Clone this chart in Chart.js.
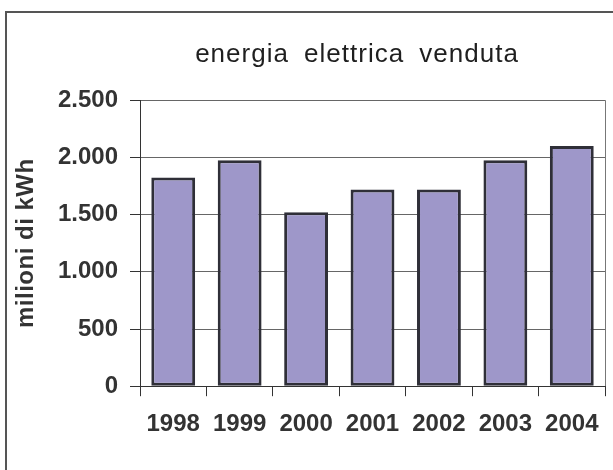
<!DOCTYPE html>
<html>
<head>
<meta charset="utf-8">
<script src="https://cdn.jsdelivr.net/npm/chart.js@4/dist/chart.umd.min.js"></script>
<style>
  html, body { margin: 0; padding: 0; background: #ffffff; }
  #wrap { width: 613px; height: 470px; }
</style>
</head>
<body>
<div id="wrap"><canvas id="c" width="613" height="470"></canvas></div>
<script>
const categories = ['1998', '1999', '2000', '2001', '2002', '2003', '2004'];
const values = [1825, 1975, 1520, 1720, 1720, 1975, 2100];
const yMin = 0;
const yMax = 2500;
const yStep = 500;
const chartTitle = 'energia elettrica venduta';
const yTitle = 'milioni di kWh';

const FONT = "'Liberation Sans', Arial, sans-serif";
const TEXT = '#333333';

function fmt(v) {
  return String(v).replace(/\B(?=(\d{3})+(?!\d))/g, '.');
}

const decor = {
  id: 'decor',
  afterLayout(chart) {
    const tb = chart.titleBlock;
    if (tb) {
      const C = 357;
      tb.left = 2 * C - tb.right;
    }
  },
  beforeDraw(chart) {
    const ctx = chart.ctx;
    ctx.save();
    ctx.strokeStyle = '#555555';
    ctx.lineWidth = 2;
    ctx.strokeRect(6, 12, 900, 900);
    ctx.restore();
    const tb = chart.titleBlock;
    if (tb && !tb._patched) {
      const orig = tb.draw;
      tb.draw = function () {
        const c = this.ctx;
        c.save();
        c.letterSpacing = '1px';
        c.wordSpacing = '7px';
        orig.apply(this, arguments);
        c.restore();
      };
      tb._patched = true;
    }
    const ys = chart.scales.y;
    if (ys && !ys._patched) {
      const origT = ys.drawTitle;
      ys.drawTitle = function () {
        const c = this.ctx;
        c.save();
        c.letterSpacing = '0.5px';
        origT.apply(this, arguments);
        c.restore();
      };
      ys._patched = true;
    }
  }
};

new Chart(document.getElementById('c'), {
  type: 'bar',
  data: {
    labels: categories,
    datasets: [{
      data: values,
      backgroundColor: '#9e97c9',
      borderColor: '#2f2f38',
      borderWidth: 3,
      borderSkipped: false,
      barPercentage: 0.66,
      categoryPercentage: 1.0
    }]
  },
  options: {
    responsive: false,
    animation: false,
    layout: { padding: { left: 0, right: 7, top: 0, bottom: 17 } },
    plugins: {
      legend: { display: false },
      tooltip: { enabled: false },
      title: {
        display: true,
        text: chartTitle,
        color: '#1f1f1f',
        font: { family: FONT, size: 26, weight: 'normal' },
        padding: { top: 39, bottom: 30 }
      }
    },
    scales: {
      x: {
        offset: true,
        grid: {
          display: true,
          offset: true,
          drawOnChartArea: true,
          color: (ctx) => (ctx.tick ? 'rgba(0,0,0,0)' : '#777777'),
          tickColor: '#333333',
          tickLength: 10,
          lineWidth: 1
        },
        border: { color: '#333333', width: 1 },
        ticks: {
          color: TEXT,
          font: { family: FONT, size: 24, weight: 'bold' },
          padding: 14,
          maxRotation: 0,
          autoSkip: false
        }
      },
      y: {
        min: yMin,
        max: yMax,
        grid: {
          color: '#666666',
          tickColor: '#333333',
          tickLength: 10,
          lineWidth: 1
        },
        border: { color: '#333333', width: 1 },
        ticks: {
          stepSize: yStep,
          padding: 12,
          color: TEXT,
          font: { family: FONT, size: 24, weight: 'bold' },
          callback: (v) => fmt(v)
        },
        title: {
          display: true,
          text: yTitle,
          color: TEXT,
          font: { family: FONT, size: 24, weight: 'bold' },
          padding: { top: 12, bottom: 0 }
        },
        afterFit: (s) => { s.width = 140; }
      }
    }
  },
  plugins: [decor]
});
</script>
</body>
</html>
